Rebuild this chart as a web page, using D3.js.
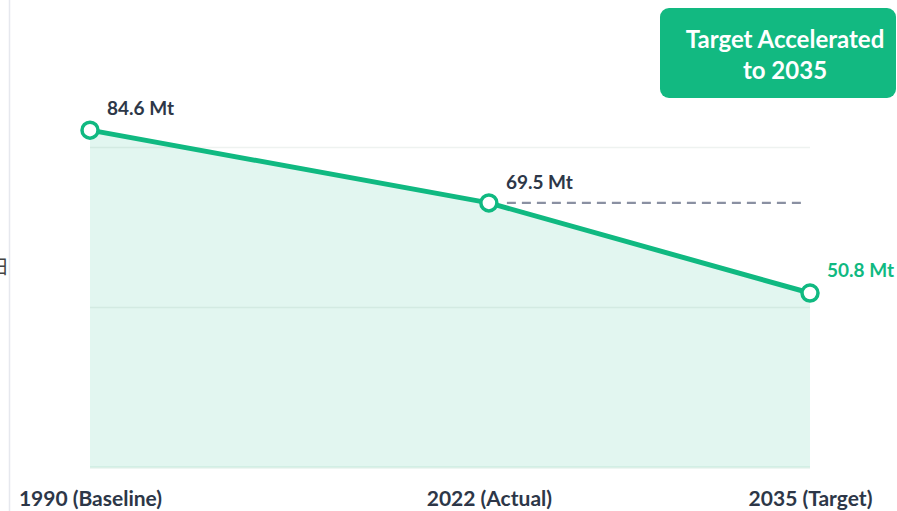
<!DOCTYPE html>
<html>
<head>
<meta charset="utf-8">
<script src="https://cdn.jsdelivr.net/npm/d3@7/dist/d3.min.js"></script>
<style>
  html, body { margin: 0; padding: 0; background: #ffffff; }
  svg { display: block; font-family: Lato, "Noto Sans", sans-serif; }
</style>
</head>
<body>
<svg id="chart" width="897" height="511"></svg>
<script>
// ---- data ----
const categories = ["1990 (Baseline)", "2022 (Actual)", "2035 (Target)"];
const years = [1990, 2022, 2035];
const emissions = [84.6, 69.5, 50.8];
const valueLabels = ["84.6 Mt", "69.5 Mt", "50.8 Mt"];
const badgeLines = ["Target Accelerated", "to 2035"];
const yDomain = [14.7, 81.1];

(function () {
const svg = d3.select("#chart");
const W = 897, H = 511;
const pLeft = 90, pRight = 810, pTop = 147, pBottom = 467;

// x: piecewise linear over the three milestone years
const x = d3.scaleLinear()
  .domain(years)
  .range([pLeft, pLeft + (pRight - pLeft) * 0.554, pRight]);
const y = d3.scaleLinear().domain(yDomain).range([pBottom, pTop]);

const green = "#10b981";
const ink = "#2d3748";

// left page border + clipped glyph
svg.append("line").attr("x1", 9.5).attr("x2", 9.5).attr("y1", 0).attr("y2", H)
  .attr("stroke", "#e6e8ee").attr("stroke-width", 1.5);
svg.append("text").attr("x", -10).attr("y", 274)
  .attr("font-family", "'Noto Sans CJK KR'").attr("font-size", 19)
  .attr("fill", "#444").text("日");

// gridlines
const gridVals = [yDomain[0], (yDomain[0] + yDomain[1]) / 2, yDomain[1]];
svg.append("g").selectAll("line").data(gridVals).join("line")
  .attr("x1", pLeft).attr("x2", pRight)
  .attr("y1", d => Math.round(y(d)) + 0.5).attr("y2", d => Math.round(y(d)) + 0.5)
  .attr("stroke", (d, i) => i === 0 ? "#dcefe7" : "#eef2f0")
  .attr("stroke-width", (d, i) => i === 0 ? 2 : 1.5);

const pts = years.map((yr, i) => ({ yr, v: emissions[i] }));

// area
svg.append("path").datum(pts)
  .attr("d", d3.area().x(d => x(d.yr)).y0(y(yDomain[0])).y1(d => y(d.v)))
  .attr("fill", green).attr("fill-opacity", 0.12);

// dashed reference from 2022 level to 2035
svg.append("line")
  .attr("x1", x(years[1]) + 18).attr("x2", x(years[2]) - 4)
  .attr("y1", y(emissions[1])).attr("y2", y(emissions[1]))
  .attr("stroke", "#8a90a2").attr("stroke-width", 2.2)
  .attr("stroke-dasharray", "9,6");

// line
svg.append("path").datum(pts)
  .attr("d", d3.line().x(d => x(d.yr)).y(d => y(d.v)))
  .attr("fill", "none").attr("stroke", green).attr("stroke-width", 5)
  .attr("stroke-linejoin", "round");

// points
svg.append("g").selectAll("circle").data(pts).join("circle")
  .attr("cx", d => x(d.yr)).attr("cy", d => y(d.v)).attr("r", 8)
  .attr("fill", "#fff").attr("stroke", green).attr("stroke-width", 3.5);

// value labels
const lblDy = [-15, -14, -16];
svg.append("g").selectAll("text").data(pts).join("text")
  .attr("x", d => x(d.yr) + 17)
  .attr("y", (d, i) => y(d.v) + lblDy[i])
  .attr("font-size", 19).attr("font-weight", 700)
  .attr("fill", (d, i) => i === 2 ? green : ink)
  .text((d, i) => valueLabels[i]);

// x axis labels
const xAxis = d3.axisBottom(x).tickValues(years).tickSize(0).tickPadding(0)
  .tickFormat((d, i) => categories[i]);
const ax = svg.append("g").attr("transform", `translate(0,${pBottom + 24})`).call(xAxis);
ax.select(".domain").remove();
ax.selectAll("text").attr("font-size", 21).attr("font-weight", 700)
  .attr("fill", ink).attr("font-family", "Lato");

// badge
const badge = svg.append("g");
badge.append("rect").attr("x", 660).attr("y", 8).attr("width", 236).attr("height", 90)
  .attr("rx", 9).attr("fill", "#12b981");
badge.selectAll("text").data(badgeLines).join("text")
  .attr("x", 785).attr("y", (d, i) => 48 + i * 31)
  .attr("text-anchor", "middle").attr("font-size", 24).attr("font-weight", 700)
  .attr("fill", "#ffffff").text(d => d);
})();
</script>
</body>
</html>
